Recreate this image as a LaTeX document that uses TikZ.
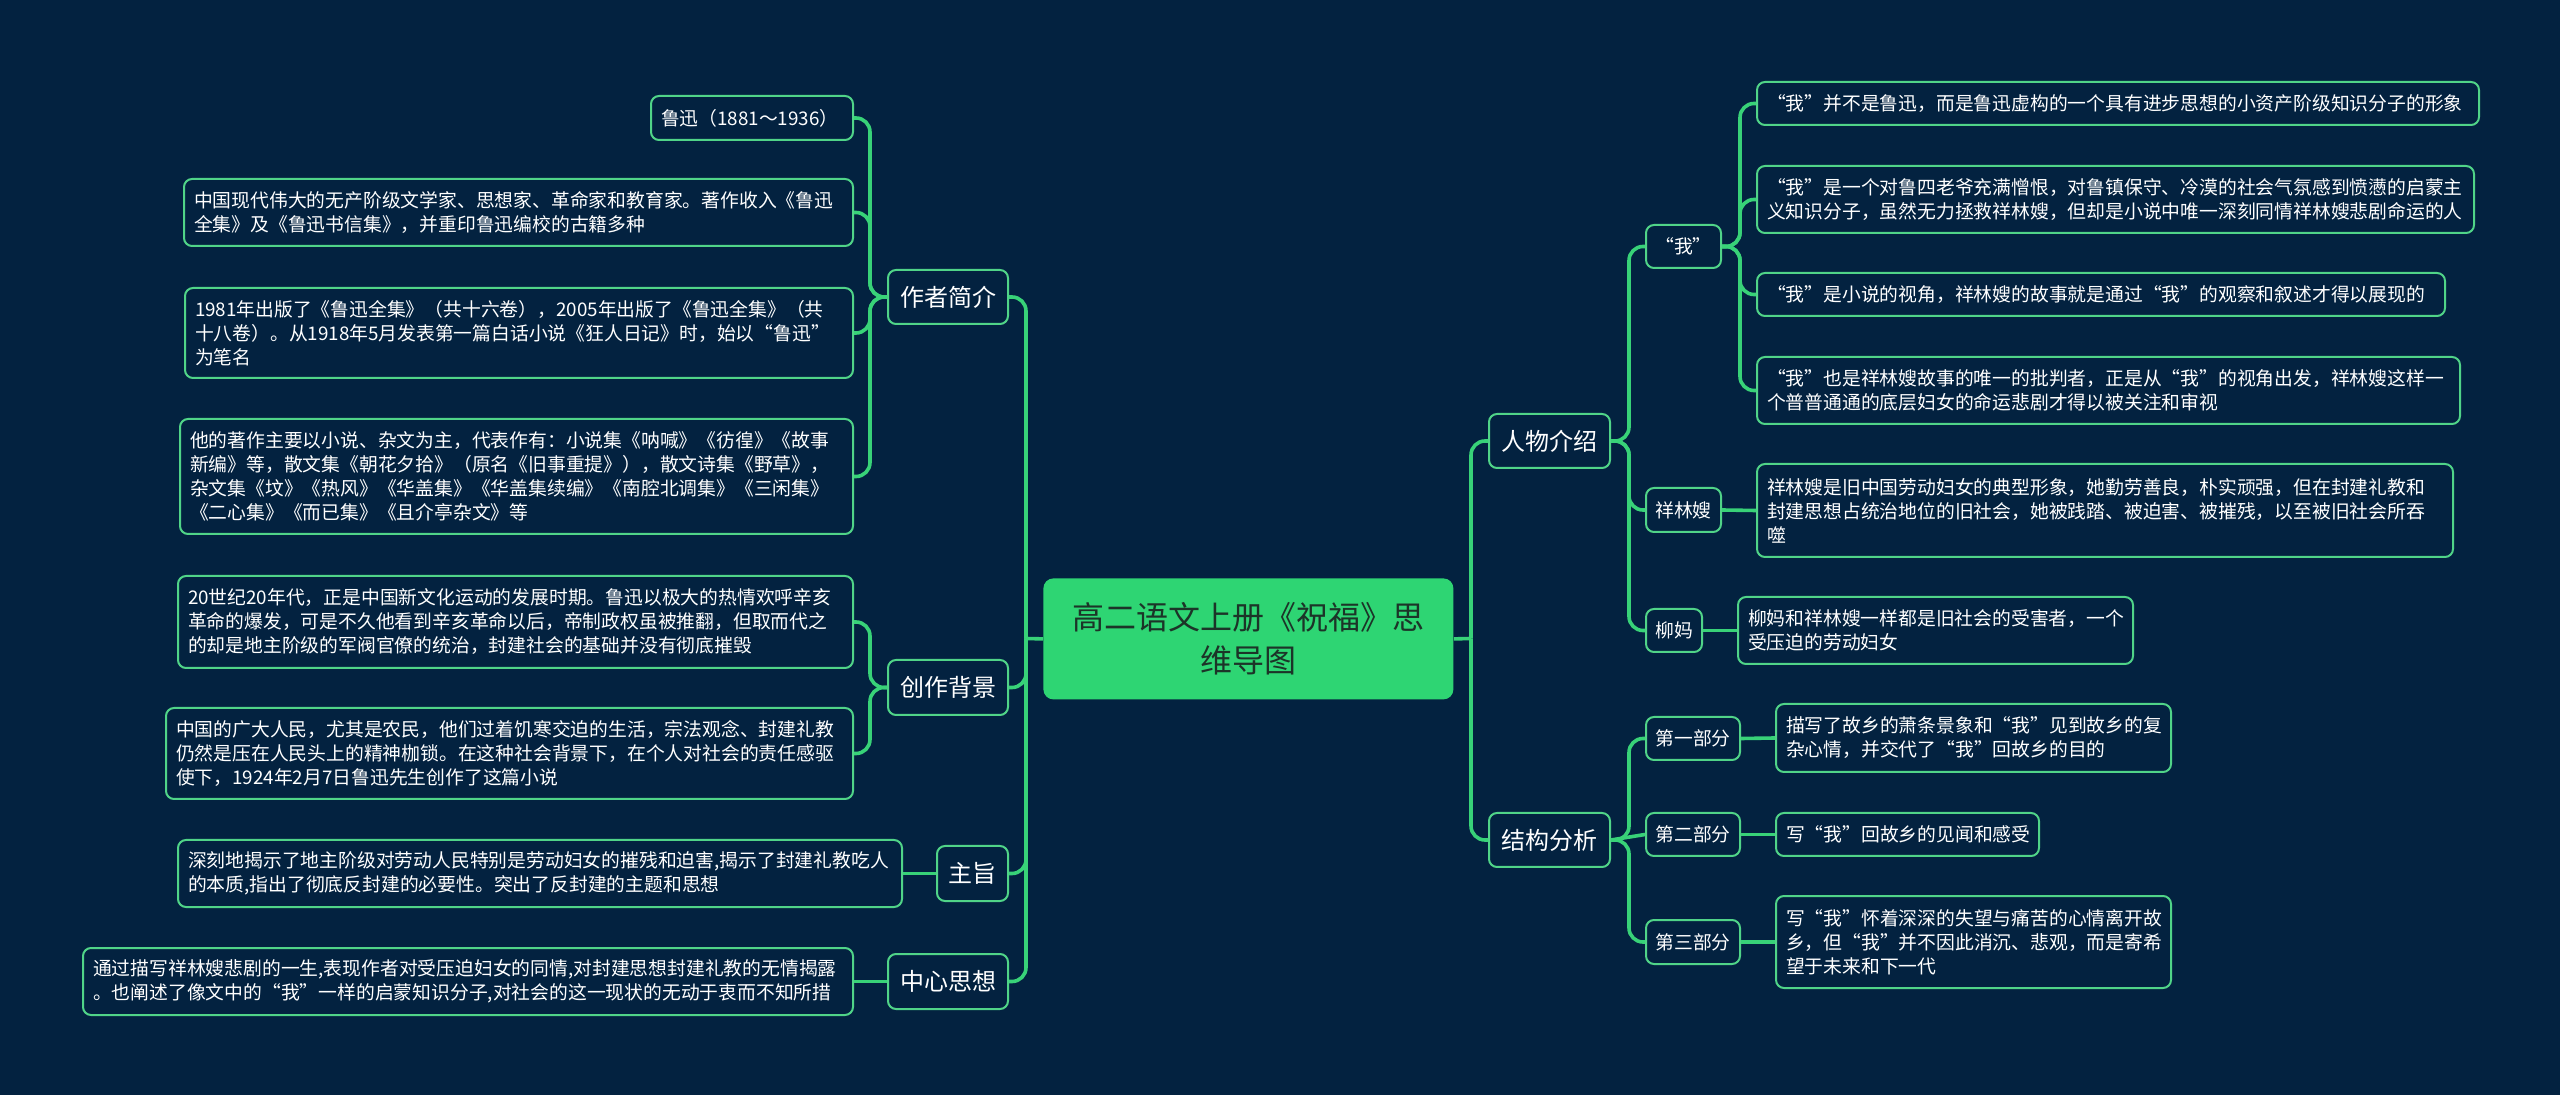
\documentclass[tikz,border=0pt]{standalone}
\usepackage{fontspec}
\setmainfont{Noto Sans CJK SC}
\definecolor{bgc}{RGB}{3,34,64}
\definecolor{connc}{RGB}{56,210,120}
\definecolor{borderc}{RGB}{80,212,136}
\definecolor{rootc}{RGB}{46,213,115}
\definecolor{roottext}{RGB}{28,52,40}
\tikzset{
  leaf/.style={draw=borderc, line width=1pt, fill=bgc, rounded corners=4pt, text=white,
    font=\fontsize{9.4}{12}\selectfont, align=left, inner xsep=5pt, inner ysep=0pt, anchor=north west},
  branch/.style={draw=borderc, line width=1pt, fill=bgc, rounded corners=4pt, text=white,
    font=\fontsize{12}{14}\selectfont, align=center, inner sep=0pt, anchor=north west},
  mid/.style={branch, font=\fontsize{9.4}{12}\selectfont},
  rootbox/.style={fill=rootc, rounded corners=5pt, text=roottext,
    font=\fontsize{16}{21.5}\selectfont, align=center, inner sep=0pt, anchor=north west},
  link/.style={draw=connc, line width=1.8pt, rounded corners=7pt},
}
\begin{document}
\begin{tikzpicture}[x=0.5pt,y=-0.5pt]
\fill[bgc] (0,0) rectangle (2560,1095);
\useasboundingbox (0,0) rectangle (2560,1095);

% root
\node[rootbox, minimum width=205pt, minimum height=60.5pt] (root) at (1043,578) {高二语文上册《祝福》思\\维导图};

% branches
\node[branch, minimum width=60pt, minimum height=27pt] (zzjj) at (887,269) {作者简介};
\node[branch, minimum width=60pt, minimum height=27.5pt] (czbj) at (887,659) {创作背景};
\node[branch, minimum width=35.5pt, minimum height=27.5pt] (zhz) at (936,845) {主旨};
\node[branch, minimum width=60pt, minimum height=27.5pt] (zxsx) at (887,953) {中心思想};
\node[branch, minimum width=60.5pt, minimum height=27pt] (rwjs) at (1488,413) {人物介绍};
\node[branch, minimum width=60.5pt, minimum height=27pt] (jgfx) at (1488,812) {结构分析};

% mid nodes
\node[mid, minimum width=37.5pt, minimum height=21.5pt] (wo) at (1645,224) {“我”};
\node[mid, minimum width=37.5pt, minimum height=22pt] (xls) at (1645,487) {祥林嫂};
\node[mid, minimum width=28pt, minimum height=21.5pt] (lm) at (1645,608) {柳妈};
\node[mid, minimum width=47pt, minimum height=21.5pt] (p1) at (1645,716) {第一部分};
\node[mid, minimum width=47pt, minimum height=21.5pt] (p2) at (1645,812) {第二部分};
\node[mid, minimum width=47pt, minimum height=22pt] (p3) at (1645,919) {第三部分};

% left leaves
\node[leaf, minimum width=101pt, minimum height=22pt, text width=91pt] (l1) at (650,95) {鲁迅（1881～1936）};
\node[leaf, minimum width=334.5pt, minimum height=33.5pt, text width=324.5pt] (l2) at (183,178) {中国现代伟大的无产阶级文学家、思想家、革命家和教育家。著作收入《鲁迅\\全集》及《鲁迅书信集》，并重印鲁迅编校的古籍多种};
\node[leaf, minimum width=334pt, minimum height=45pt, text width=324pt] (l3) at (184,287) {1981年出版了《鲁迅全集》（共十六卷），2005年出版了《鲁迅全集》（共\\十八卷）。从1918年5月发表第一篇白话小说《狂人日记》时，始以“鲁迅”\\为笔名};
\node[leaf, minimum width=336.5pt, minimum height=57.5pt, text width=326.5pt] (l4) at (179,418) {他的著作主要以小说、杂文为主，代表作有：小说集《呐喊》《彷徨》《故事\\新编》等，散文集《朝花夕拾》（原名《旧事重提》），散文诗集《野草》，\\杂文集《坟》《热风》《华盖集》《华盖集续编》《南腔北调集》《三闲集》\\《二心集》《而已集》《且介亭杂文》等};
\node[leaf, minimum width=337.5pt, minimum height=46pt, text width=327.5pt] (l5) at (177,575) {20世纪20年代，正是中国新文化运动的发展时期。鲁迅以极大的热情欢呼辛亥\\革命的爆发，可是不久他看到辛亥革命以后，帝制政权虽被推翻，但取而代之\\的却是地主阶级的军阀官僚的统治，封建社会的基础并没有彻底摧毁};
\node[leaf, minimum width=343.5pt, minimum height=45.5pt, text width=333.5pt] (l6) at (165,707) {中国的广大人民，尤其是农民，他们过着饥寒交迫的生活，宗法观念、封建礼教\\仍然是压在人民头上的精神枷锁。在这种社会背景下，在个人对社会的责任感驱\\使下，1924年2月7日鲁迅先生创作了这篇小说};
\node[leaf, minimum width=362pt, minimum height=33.5pt, text width=352pt] (l7) at (177,839) {深刻地揭示了地主阶级对劳动人民特别是劳动妇女的摧残和迫害,揭示了封建礼教吃人\\的本质,指出了彻底反封建的必要性。突出了反封建的主题和思想};
\node[leaf, minimum width=385pt, minimum height=33.5pt, text width=375pt] (l8) at (82,947) {通过描写祥林嫂悲剧的一生,表现作者对受压迫妇女的同情,对封建思想封建礼教的无情揭露\\。也阐述了像文中的“我”一样的启蒙知识分子,对社会的这一现状的无动于衷而不知所措};

% right leaves
\node[leaf, minimum width=361pt, minimum height=21.5pt, text width=351pt] (r1) at (1756,81) {“我”并不是鲁迅，而是鲁迅虚构的一个具有进步思想的小资产阶级知识分子的形象};
\node[leaf, minimum width=358.5pt, minimum height=33.5pt, text width=348.5pt] (r2) at (1756,165) {“我”是一个对鲁四老爷充满憎恨，对鲁镇保守、冷漠的社会气氛感到愤懑的启蒙主\\义知识分子，虽然无力拯救祥林嫂，但却是小说中唯一深刻同情祥林嫂悲剧命运的人};
\node[leaf, minimum width=344pt, minimum height=21.5pt, text width=334pt] (r3) at (1756,272) {“我”是小说的视角，祥林嫂的故事就是通过“我”的观察和叙述才得以展现的};
\node[leaf, minimum width=351.5pt, minimum height=33.5pt, text width=341.5pt] (r4) at (1756,356) {“我”也是祥林嫂故事的唯一的批判者，正是从“我”的视角出发，祥林嫂这样一\\个普普通通的底层妇女的命运悲剧才得以被关注和审视};
\node[leaf, minimum width=348pt, minimum height=46.5pt, text width=338pt] (r5) at (1756,463) {祥林嫂是旧中国劳动妇女的典型形象，她勤劳善良，朴实顽强，但在封建礼教和\\封建思想占统治地位的旧社会，她被践踏、被迫害、被摧残，以至被旧社会所吞\\噬};
\node[leaf, minimum width=197.5pt, minimum height=33.5pt, text width=187.5pt] (r6) at (1737,596) {柳妈和祥林嫂一样都是旧社会的受害者，一个\\受压迫的劳动妇女};
\node[leaf, minimum width=197.5pt, minimum height=34pt, text width=187.5pt] (r7) at (1775,703) {描写了故乡的萧条景象和“我”见到故乡的复\\杂心情，并交代了“我”回故乡的目的};
\node[leaf, minimum width=131.5pt, minimum height=21.5pt, text width=121.5pt] (r8) at (1775,812) {写“我”回故乡的见闻和感受};
\node[leaf, minimum width=197.5pt, minimum height=46pt, text width=187.5pt] (r9) at (1775,895) {写“我”怀着深深的失望与痛苦的心情离开故\\乡，但“我”并不因此消沉、悲观，而是寄希\\望于未来和下一代};

% connectors: root to branches
\coordinate (jL) at (1026,638.5);
\coordinate (jR) at (1471,638.5);
\draw[link] (root.west) -- (jL);
\draw[link] (root.east) -- (jR);
\draw[link] (jL) |- (zzjj.east);
\draw[link] (jL) |- (czbj.east);
\draw[link] (jL) |- (zhz.east);
\draw[link] (jL) |- (zxsx.east);
\draw[link] (jR) |- (rwjs.west);
\draw[link] (jR) |- (jgfx.west);

% left level 2
\draw[link] (zzjj.west) -- ++(-17,0) |- (l1.east);
\draw[link] (zzjj.west) -- ++(-17,0) |- (l2.east);
\draw[link] (zzjj.west) -- ++(-17,0) |- (l3.east);
\draw[link] (zzjj.west) -- ++(-17,0) |- (l4.east);
\draw[link] (czbj.west) -- ++(-17,0) |- (l5.east);
\draw[link] (czbj.west) -- ++(-17,0) |- (l6.east);
\draw[link] (zhz.west) -- (l7.east);
\draw[link] (zxsx.west) -- (l8.east);

% right level 2
\draw[link] (rwjs.east) -- ++(18,0) |- (wo.west);
\draw[link] (rwjs.east) -- ++(18,0) |- (xls.west);
\draw[link] (rwjs.east) -- ++(18,0) |- (lm.west);
\draw[link] (wo.east) -- ++(18,0) |- (r1.west);
\draw[link] (wo.east) -- ++(18,0) |- (r2.west);
\draw[link] (wo.east) -- ++(18,0) |- (r3.west);
\draw[link] (wo.east) -- ++(18,0) |- (r4.west);
\draw[link] (xls.east) -- (r5.west);
\draw[link] (lm.east) -- (r6.west);
\draw[link] (jgfx.east) -- ++(18,0) |- (p1.west);
\draw[link] (jgfx.east) -- (p2.west);
\draw[link] (jgfx.east) -- ++(18,0) |- (p3.west);
\draw[link] (p1.east) -- (r7.west);
\draw[link] (p2.east) -- (r8.west);
\draw[link] (p3.east) -- (r9.west);
\end{tikzpicture}
\end{document}
